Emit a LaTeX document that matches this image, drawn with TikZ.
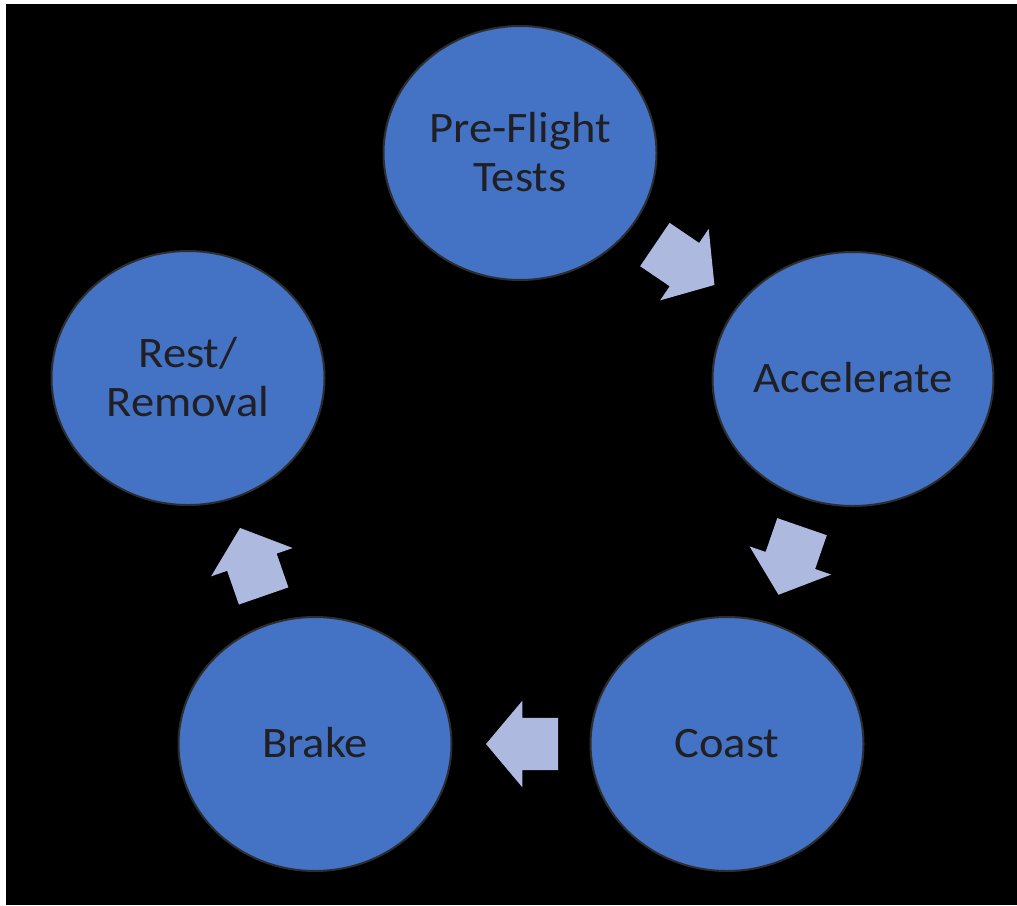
\documentclass[tikz,border=0pt]{standalone}
\usepackage{fontspec}
\setmainfont{Carlito}
\usetikzlibrary{positioning,shapes.geometric,shapes.arrows}
\definecolor{stageblue}{RGB}{68,114,196}
\definecolor{flowblue}{RGB}{173,185,223}
\definecolor{rimgray}{RGB}{45,45,48}
\definecolor{inkgray}{RGB}{32,32,36}
\tikzstyle{stage}=[draw=rimgray, line width=2pt, fill=stageblue, ellipse, minimum width=273pt, minimum height=254pt, inner sep=0pt, text=inkgray, font=\fontsize{43.5}{49}\selectfont]
\tikzstyle{flow}=[single arrow, fill=flowblue, draw=none, inner xsep=0pt, inner ysep=26pt, minimum height=72pt, single arrow head extend=17pt, single arrow tip angle=100, sloped, allow upside down, xshift=-12pt]
\newcommand{\stagename}[1]{
  \raisebox{-4pt}[\height][\depth]{\scalebox{1.07}[1]{\begin{tabular}{@{}c@{}}#1\end{tabular}}}
}

\begin{document}
\begin{tikzpicture}[x=1pt, y=-1pt]
    \useasboundingbox (0, 0) rectangle (1017, 905);
    \fill[white] (0, 0) rectangle (1017, 905);
    \fill[black] (6, 4) rectangle (1017, 905);
    \node[stage] (pre) at (520, 153) {\stagename{Pre-Flight\\Tests}};
    \node[stage] (acc) at (853, 379) {\stagename{Accelerate}};
    \node[stage] (coast) at (727, 744) {\stagename{Coast}};
    \node[stage] (brake) at (315, 744) {\stagename{Brake}};
    \node[stage] (rest) at (188, 378) {\stagename{Rest/\\Removal}};
    \path (pre) -- node[flow] (a1) {} (acc);
    \path (acc) -- node[flow] (a2) {} (coast);
    \path (coast) -- node[flow] (a3) {} (brake);
    \path (brake) -- node[flow] (a4) {} (rest);
  \end{tikzpicture}
\end{document}
